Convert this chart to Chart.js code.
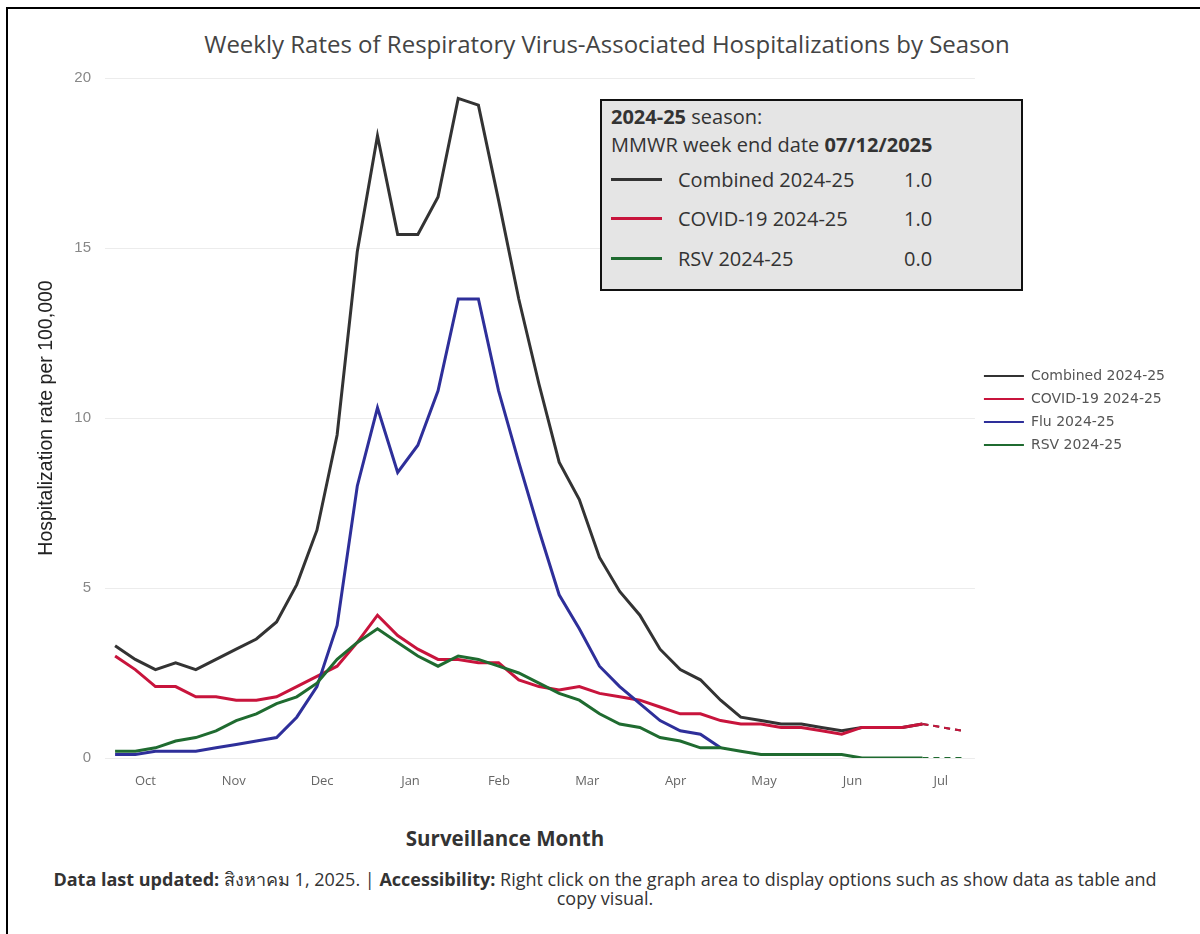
<!DOCTYPE html>
<html>
<head>
<meta charset="utf-8">
<script src="https://cdn.jsdelivr.net/npm/chart.js@4.4.1/dist/chart.umd.min.js"></script>
<style>
    html, body { margin: 0; padding: 0; background: #fff; }
    body { width: 1200px; height: 934px; position: relative; overflow: hidden; font-family: "Open Sans", sans-serif; }
    #frame { position: absolute; left: 6px; top: 7px; right: 0; bottom: 0; border-left: 2px solid #000; border-top: 2px solid #000; }
    #wrap { position: absolute; left: 0; top: 0; width: 1200px; height: 800px; }
    #title { position: absolute; left: 0; width: 1214px; top: 29px; line-height: 30px; text-align: center; font-size: 24px; color: #444; white-space: nowrap; }
    #infoBox { position: absolute; left: 600px; top: 99px; width: 419px; height: 188px; background: #e5e5e5; border: 2px solid #111; color: #333; font-size: 20px; line-height: 27px; }
    #infoBox .hd { position: absolute; left: 9px; white-space: nowrap; }
    #infoBox .row { position: absolute; left: 9px; width: 400px; height: 27px; }
    #infoBox .swatch { position: absolute; left: 0; top: 12px; width: 51px; height: 3px; }
    #infoBox .lbl { position: absolute; left: 67px; top: 0; white-space: nowrap; }
    #infoBox .val { position: absolute; left: 293px; top: 0; }
    #xTitle { position: absolute; left: 305px; width: 400px; top: 824px; line-height: 28px; text-align: center; font-weight: 700; font-size: 20.5px; color: #333; }
    #footer { position: absolute; left: 0; width: 1210px; top: 870px; text-align: center; font-size: 18px; line-height: 19px; color: #333; white-space: nowrap; }
</style>
</head>
<body>
<div id="frame"></div>
<div id="title">Weekly Rates of Respiratory Virus-Associated Hospitalizations by Season</div>
<div id="wrap"><canvas id="chart"></canvas></div>

<div id="infoBox">
    <div class="hd" style="top:2px"><b>2024-25</b> season:</div>
    <div class="hd" style="top:30px">MMWR week end date <b>07/12/2025</b></div>
    <div class="row" style="top:65px"><div class="swatch" style="background:#333333"></div><div class="lbl">Combined 2024-25</div><div class="val">1.0</div></div>
    <div class="row" style="top:104px"><div class="swatch" style="background:#c8143c"></div><div class="lbl">COVID-19 2024-25</div><div class="val">1.0</div></div>
    <div class="row" style="top:144px"><div class="swatch" style="background:#1f6b30"></div><div class="lbl">RSV 2024-25</div><div class="val">0.0</div></div>
</div>

<div id="xTitle">Surveillance Month</div>
<div id="footer"><b>Data last updated:</b> สิงหาคม 1, 2025. | <b>Accessibility:</b> Right click on the graph area to display options such as show data as table and<br>copy visual.</div>

<script>
    // week index 0 = MMWR week ending 10/05/2024, index 40 = 07/12/2025 (last reported), 41-42 = provisional
    var lastReported = 40;

    var weeks = [];
    for (var i = 0; i <= 42; i++) weeks.push(i);

    var combined = [3.3, 2.9, 2.6, 2.8, 2.6, 2.9, 3.2, 3.5, 4.0, 5.1,
                    6.7, 9.5, 14.9, 18.3, 15.4, 15.4, 16.5, 19.4, 19.2, 16.4,
                    13.5, 11.0, 8.7, 7.6, 5.9, 4.9, 4.2, 3.2, 2.6, 2.3,
                    1.7, 1.2, 1.1, 1.0, 1.0, 0.9, 0.8, 0.9, 0.9, 0.9,
                    1.0, 0.9, 0.8];
    var covid =    [3.0, 2.6, 2.1, 2.1, 1.8, 1.8, 1.7, 1.7, 1.8, 2.1,
                    2.4, 2.7, 3.4, 4.2, 3.6, 3.2, 2.9, 2.9, 2.8, 2.8,
                    2.3, 2.1, 2.0, 2.1, 1.9, 1.8, 1.7, 1.5, 1.3, 1.3,
                    1.1, 1.0, 1.0, 0.9, 0.9, 0.8, 0.7, 0.9, 0.9, 0.9,
                    1.0, 0.9, 0.8];
    var flu =      [0.1, 0.1, 0.2, 0.2, 0.2, 0.3, 0.4, 0.5, 0.6, 1.2,
                    2.1, 3.9, 8.0, 10.3, 8.4, 9.2, 10.8, 13.5, 13.5, 10.8,
                    8.7, 6.7, 4.8, 3.8, 2.7, 2.1, 1.6, 1.1, 0.8, 0.7,
                    0.3];
    var rsv =      [0.2, 0.2, 0.3, 0.5, 0.6, 0.8, 1.1, 1.3, 1.6, 1.8,
                    2.2, 2.9, 3.4, 3.8, 3.4, 3.0, 2.7, 3.0, 2.9, 2.7,
                    2.5, 2.2, 1.9, 1.7, 1.3, 1.0, 0.9, 0.6, 0.5, 0.3,
                    0.3, 0.2, 0.1, 0.1, 0.1, 0.1, 0.1, 0.0, 0.0, 0.0,
                    0.0, 0.0, 0.0];

    var monthLabels = ['Oct', 'Nov', 'Dec', 'Jan', 'Feb', 'Mar', 'Apr', 'May', 'Jun', 'Jul'];
    var yTicks = [0, 5, 10, 15, 20];

    // labels sit mid-month: Oct 15.5 is 10.5 days after the first week end, then evenly spaced
    var monthPos = monthLabels.map(function(m, k){
        return (10.5 + k * 30.65) / 7;
    });

    function series(label, values, color, order){
        return {
            label: label,
            data: values.map(function(v, i){ return {x: weeks[i], y: v}; }),
            borderColor: color,
            backgroundColor: color,
            borderWidth: 3,
            pointRadius: 0,
            pointHoverRadius: 0,
            tension: 0,
            order: order,
            segment: {
                borderDash: function(ctx){ return ctx.p0DataIndex >= lastReported ? [6, 5] : undefined; },
                borderWidth: function(ctx){ return ctx.p0DataIndex >= lastReported ? 2 : undefined; }
            }
        };
    }

    new Chart(document.getElementById('chart'), {
        type: 'line',
        data: {
            datasets: [
                series('Combined 2024-25', combined, '#333333', 4),
                series('COVID-19 2024-25', covid, '#c8143c', 3),
                series('Flu 2024-25', flu, '#2e2f9a', 2),
                series('RSV 2024-25', rsv, '#1f6b30', 1)
            ]
        },
        options: {
            responsive: true,
            maintainAspectRatio: false,
            animation: false,
            layout: { padding: { left: 0, right: 25, top: 78, bottom: 0 } },
            plugins: {
                title: { display: false },
                legend: {
                    position: 'right',
                    fullSize: false,
                    align: 'start',
                    // empty title only pushes the items down to mid-height
                    title: { display: true, text: '', font: { size: 10 }, padding: { top: 0, bottom: 270 } },
                    labels: {
                        usePointStyle: true,
                        pointStyle: 'line',
                        pointStyleWidth: 40,
                        padding: 9,
                        color: '#555',
                        font: { family: 'DejaVu Sans', size: 14 },
                        sort: function(a, b){ return a.datasetIndex - b.datasetIndex; },
                        generateLabels: function(chart){
                            return Chart.defaults.plugins.legend.labels.generateLabels(chart).map(function(l){
                                l.lineWidth = 2;
                                return l;
                            });
                        }
                    }
                },
                tooltip: { enabled: false }
            },
            scales: {
                x: {
                    type: 'linear',
                    min: -0.5,
                    max: 42.6,
                    grid: { display: false, drawTicks: false },
                    border: { display: false },
                    afterBuildTicks: function(axis){
                        axis.ticks = monthPos.map(function(v){ return {value: v}; });
                    },
                    afterFit: function(axis){ axis.height = 42; },
                    ticks: {
                        autoSkip: false,
                        maxRotation: 0,
                        padding: 15,
                        color: '#666',
                        font: { family: 'Open Sans', size: 13 },
                        callback: function(value, index){ return monthLabels[index]; }
                    }
                },
                y: {
                    min: 0,
                    max: 20,
                    afterBuildTicks: function(axis){
                        axis.ticks = yTicks.map(function(v){ return {value: v}; });
                    },
                    afterFit: function(axis){ axis.width = 105; },
                    grid: { color: '#ececec', lineWidth: 1, drawTicks: false },
                    border: { display: false },
                    ticks: {
                        padding: 14,
                        color: '#888',
                        font: { family: 'Liberation Sans', size: 15 }
                    },
                    title: {
                        display: true,
                        text: 'Hospitalization rate per 100,000',
                        color: '#222',
                        font: { family: 'Liberation Sans', size: 19.5 },
                        padding: { top: 35, bottom: 0 }
                    }
                }
            }
        }
    });
</script>
</body>
</html>
